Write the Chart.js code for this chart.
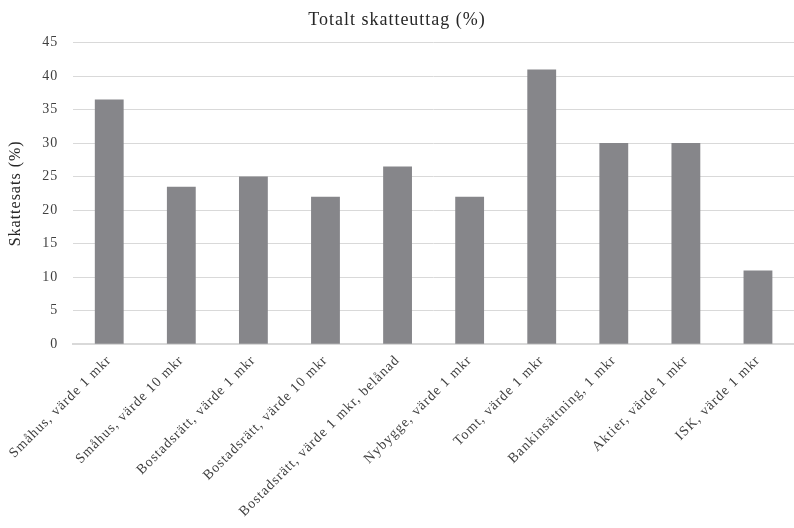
<!DOCTYPE html>
<html>
<head>
<meta charset="utf-8">
<script src="https://cdn.jsdelivr.net/npm/chart.js@4/dist/chart.umd.min.js"></script>
<style>
  html, body { margin: 0; padding: 0; background: #ffffff; }
  #wrap { width: 794px; height: 528px; position: relative; }
</style>
</head>
<body>
<div id="wrap"><canvas id="c" width="794" height="528"></canvas></div>
<script>
const categories = [
  "Småhus, värde 1 mkr",
  "Småhus, värde 10 mkr",
  "Bostadsrätt, värde 1 mkr",
  "Bostadsrätt, värde 10 mkr",
  "Bostadsrätt, värde 1 mkr, belånad",
  "Nybygge, värde 1 mkr",
  "Tomt, värde 1 mkr",
  "Bankinsättning, 1 mkr",
  "Aktier, värde 1 mkr",
  "ISK, värde 1 mkr"
];
const taxRates = [36.5, 23.5, 25, 22, 26.5, 22, 41, 30, 30, 11];
const yTicks = [0, 5, 10, 15, 20, 25, 30, 35, 40, 45];
const chartTitle = "Totalt skatteuttag (%)";
const yTitle = "Skattesats (%)";

const serif = "'Liberation Serif', 'DejaVu Serif', serif";

const spacing = {
  id: 'spacing',
  beforeUpdate(chart) { chart.ctx.letterSpacing = '1px'; },
  beforeDraw(chart) { chart.ctx.letterSpacing = '1px'; }
};

new Chart(document.getElementById('c'), {
  type: 'bar',
  plugins: [spacing],
  data: {
    labels: categories,
    datasets: [{
      data: taxRates,
      backgroundColor: '#86868a',
      borderWidth: 0,
      barPercentage: 0.4,
      categoryPercentage: 1.0
    }]
  },
  options: {
    responsive: false,
    animation: false,
    devicePixelRatio: 1,
    layout: { padding: { left: 0, right: 0, top: 9, bottom: 0 } },
    plugins: {
      legend: { display: false },
      tooltip: { enabled: false },
      title: {
        display: true,
        text: chartTitle,
        color: '#262626',
        font: { family: serif, size: 18, weight: 'normal' },
        padding: { top: 0, bottom: 12 }
      }
    },
    scales: {
      x: {
        grid: { display: false, drawTicks: false },
        border: { display: true, color: '#d9d9d9', width: 2 },
        ticks: {
          color: '#404040',
          font: { family: serif, size: 14 },
          maxRotation: 45,
          minRotation: 45,
          autoSkip: false,
          padding: 8
        }
      },
      y: {
        min: 0,
        max: 45,
        afterBuildTicks: (axis) => { axis.ticks = yTicks.map(v => ({ value: v })); },
        grid: { color: '#d9d9d9', lineWidth: 1, drawTicks: false },
        border: { display: false },
        ticks: {
          color: '#404040',
          font: { family: serif, size: 14 },
          padding: 15
        },
        title: {
          display: true,
          text: yTitle,
          color: '#262626',
          font: { family: serif, size: 16 },
          padding: { top: 6, bottom: 2 }
        }
      }
    }
  }
});
</script>
</body>
</html>
